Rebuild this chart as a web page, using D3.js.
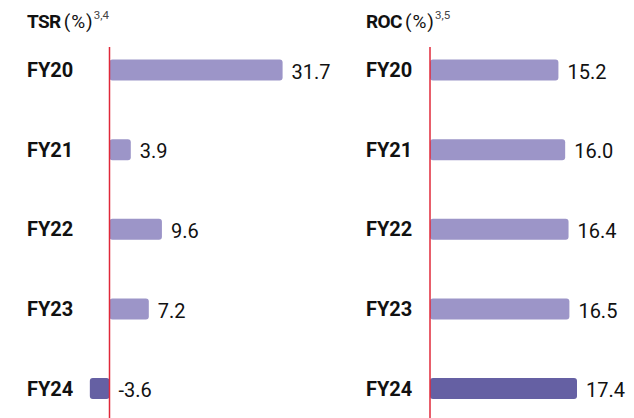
<!DOCTYPE html>
<html>
<head>
<meta charset="utf-8">
<script src="https://cdn.jsdelivr.net/npm/d3@7/dist/d3.min.js"></script>
<style>
  html, body { margin: 0; padding: 0; background: #fff; }
  svg { display: block; }
</style>
</head>
<body>
<svg id="chart" width="634" height="418"></svg>
<script>
// Fiscal years shown in both panels
const years = ["FY20", "FY21", "FY22", "FY23", "FY24"];
// Total shareholder return (%)
const tsrValues = [31.7, 3.9, 9.6, 7.2, -3.6];
// Return on capital (%)
const rocValues = [15.2, 16.0, 16.4, 16.5, 17.4];
// Panel titles and their footnote markers
const panelTitles = [
  { bold: "TSR", unit: "(%)", note: "3,4" },
  { bold: "ROC", unit: "(%)", note: "3,5" }
];

const svg = d3.select("#chart");
const lightBar = "#9c95c8";
const darkBar = "#6560a3";
const zeroLine = "#e0283a";
const font = "Roboto, 'Liberation Sans', Arial, sans-serif";

const y = d3.scalePoint().domain(years).range([70, 388.5]);
const barH = 21;

const panels = [
  {
    title: panelTitles[0], values: tsrValues,
    x: d3.scaleLinear().domain([0, 31.7]).range([109.5, 282.6]),
    titleX: 27, labelX: 27
  },
  {
    title: panelTitles[1], values: rocValues,
    x: d3.scaleLinear().domain([0, 17.4]).range([430, 577]),
    titleX: 366, labelX: 366
  }
];

panels.forEach(p => {
  const g = svg.append("g");
  const data = years.map((yr, i) => ({ yr, v: p.values[i], last: i === years.length - 1 }));

  // Title: bold metric name, unit, superscript footnote
  const t = g.append("text")
    .attr("x", p.titleX).attr("y", 28)
    .attr("font-family", font)
    .attr("font-size", 19).attr("fill", "#111");
  t.append("tspan").attr("font-weight", 700).attr("letter-spacing", -0.6).text(p.title.bold);
  t.append("tspan").attr("dx", 3).attr("font-weight", 400).attr("letter-spacing", 1).text(p.title.unit);
  t.append("tspan").attr("dx", 0).attr("dy", -9).attr("font-size", 11.5).attr("fill", "#444").text(p.title.note);

  // Category labels
  g.selectAll("text.cat").data(data).join("text")
    .attr("class", "cat")
    .attr("x", p.labelX).attr("y", d => y(d.yr))
    .attr("dy", "0.36em")
    .attr("font-family", font)
    .attr("font-weight", 700).attr("font-size", 20).attr("fill", "#111")
    .text(d => d.yr);

  // Bars
  g.selectAll("rect.bar").data(data).join("rect")
    .attr("class", "bar")
    .attr("x", d => Math.min(p.x(0), p.x(d.v)))
    .attr("width", d => Math.abs(p.x(d.v) - p.x(0)))
    .attr("y", d => y(d.yr) - barH / 2)
    .attr("height", barH)
    .attr("rx", 3).attr("ry", 3)
    .attr("fill", d => d.last ? darkBar : lightBar);

  // Value labels
  g.selectAll("text.val").data(data).join("text")
    .attr("class", "val")
    .attr("x", d => (d.v >= 0 ? p.x(d.v) : p.x(0)) + 9)
    .attr("y", d => y(d.yr) + 1.5)
    .attr("dy", "0.36em")
    .attr("font-family", font)
    .attr("font-weight", 400).attr("font-size", 20).attr("fill", "#111")
    .text(d => d3.format(".1f")(d.v).replace("−", "-"));

  // Zero reference line
  g.append("line")
    .attr("x1", p.x(0)).attr("x2", p.x(0))
    .attr("y1", 47).attr("y2", 418)
    .attr("stroke", zeroLine).attr("stroke-width", 1.5);
});
</script>
</body>
</html>
